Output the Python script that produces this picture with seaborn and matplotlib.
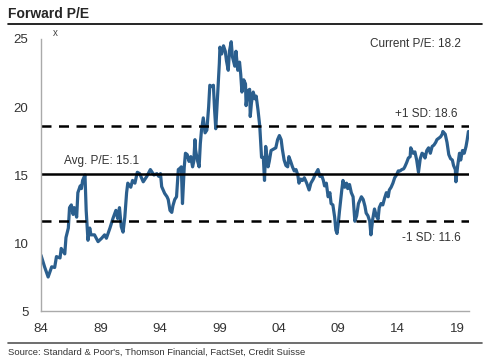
import numpy as np
import pandas as pd
import matplotlib
matplotlib.use("Agg")
import matplotlib.pyplot as plt
import seaborn as sns

# forward P/E (decimal year, value)
years = [1984.0, 1984.3, 1984.6, 1984.9, 1985.15, 1985.3, 1985.6, 1985.7, 1986.0, 1986.1,
         1986.3, 1986.4, 1986.55, 1986.7, 1986.8, 1987.0, 1987.1, 1987.3, 1987.4, 1987.5,
         1987.7, 1987.8, 1987.95, 1988.1, 1988.2, 1988.5, 1988.8, 1989.1, 1989.35, 1989.5,
         1989.8, 1990.05, 1990.3, 1990.45, 1990.6, 1990.75, 1990.9, 1991.05, 1991.2, 1991.3,
         1991.55, 1991.7, 1991.9, 1992.1, 1992.3, 1992.6, 1992.9, 1993.2, 1993.5, 1993.75,
         1993.9, 1994.05, 1994.15, 1994.4, 1994.6, 1994.7, 1994.85, 1995.0, 1995.1, 1995.25,
         1995.4, 1995.55, 1995.7, 1995.8, 1995.9, 1996.05, 1996.15, 1996.3, 1996.45, 1996.6,
         1996.75, 1996.85, 1996.95, 1997.0, 1997.15, 1997.3, 1997.4, 1997.5, 1997.65, 1997.8,
         1997.95, 1998.1, 1998.2, 1998.35, 1998.5, 1998.6, 1998.7, 1998.8, 1999.0, 1999.05,
         1999.2, 1999.35, 1999.5, 1999.6, 1999.75, 1999.85, 2000.0, 2000.1, 2000.3, 2000.4,
         2000.55, 2000.7, 2000.8, 2000.9, 2001.05, 2001.2, 2001.25, 2001.4, 2001.55, 2001.6,
         2001.7, 2001.85, 2002.0, 2002.1, 2002.25, 2002.4, 2002.55, 2002.7, 2002.8, 2002.9,
         2003.1, 2003.2, 2003.35, 2003.55, 2003.75, 2003.9, 2004.05, 2004.2, 2004.3, 2004.45,
         2004.6, 2004.75, 2004.85, 2005.0, 2005.15, 2005.3, 2005.45, 2005.6, 2005.7, 2005.85,
         2006.0, 2006.15, 2006.35, 2006.55, 2006.7, 2006.9, 2007.05, 2007.2, 2007.3, 2007.45,
         2007.6, 2007.75, 2007.85, 2008.0, 2008.15, 2008.3, 2008.4, 2008.55, 2008.7, 2008.8,
         2008.9, 2009.0, 2009.1, 2009.3, 2009.4, 2009.55, 2009.7, 2009.8, 2009.95, 2010.1,
         2010.25, 2010.4, 2010.55, 2010.7, 2010.95, 2011.1, 2011.25, 2011.35, 2011.5, 2011.65,
         2011.75, 2011.9, 2012.05, 2012.2, 2012.35, 2012.45, 2012.6, 2012.75, 2012.9, 2013.05,
         2013.2, 2013.3, 2013.45, 2013.6, 2013.75, 2013.9, 2014.05, 2014.2, 2014.35, 2014.5,
         2014.6, 2014.75, 2014.9, 2015.05, 2015.1, 2015.3, 2015.45, 2015.6, 2015.75, 2015.9,
         2016.05, 2016.2, 2016.3, 2016.45, 2016.6, 2016.75, 2016.9, 2017.05, 2017.2, 2017.3,
         2017.45, 2017.6, 2017.75, 2017.8, 2018.0, 2018.15, 2018.3, 2018.45, 2018.6, 2018.7,
         2018.85, 2018.9, 2019.05, 2019.2, 2019.3, 2019.45, 2019.6, 2019.75, 2019.85, 2019.95]
pe = [9.1, 8.25, 7.5, 8.25, 8.2, 9.0, 8.9, 9.6, 9.2, 10.4,
      11.1, 12.6, 12.8, 12.1, 12.6, 11.9, 13.7, 14.2, 14.0, 14.6,
      15.0, 12.4, 10.2, 11.1, 10.6, 10.6, 10.1, 10.35, 10.6, 10.35,
      11.1, 11.8, 12.4, 11.8, 12.6, 11.2, 10.8, 11.9, 13.7, 14.4,
      14.1, 14.6, 14.4, 15.2, 15.1, 14.5, 14.9, 15.4, 15.0, 15.1,
      14.9, 15.1, 14.15, 13.65, 13.4, 13.2, 12.4, 12.25, 12.75, 13.2,
      13.4, 15.4, 15.5, 15.6, 12.9, 15.6, 16.6, 16.5, 16.0, 16.35,
      15.6, 16.0, 17.6, 16.85, 16.1, 15.6, 17.3, 18.3, 19.2, 18.1,
      18.3, 20.0, 21.6, 21.5, 21.6, 19.8, 18.4, 20.0, 23.2, 24.4,
      23.9, 24.5, 24.1, 23.4, 22.7, 24.1, 24.8, 23.7, 23.0, 24.1,
      22.7, 23.3, 22.4, 21.1, 22.0, 21.7, 20.1, 21.2, 21.3, 19.3,
      20.3, 21.1, 20.6, 20.8, 19.8, 18.6, 16.3, 16.3, 14.6, 17.1,
      15.6, 16.0, 16.8, 16.9, 17.0, 17.6, 17.9, 17.6, 16.9, 16.1,
      15.7, 15.6, 16.35, 16.0, 15.6, 15.3, 15.4, 15.0, 14.4, 14.7,
      14.6, 14.8, 14.4, 13.9, 14.4, 14.7, 15.0, 15.25, 15.4, 14.9,
      15.0, 14.6, 14.2, 14.4, 13.4, 13.7, 12.9, 12.8, 11.9, 10.95,
      10.7, 11.4, 12.3, 13.9, 14.6, 14.1, 14.4, 14.0, 14.3, 13.7,
      13.4, 11.6, 12.0, 12.9, 13.4, 13.2, 12.7, 12.2, 12.0, 11.6,
      10.6, 11.75, 12.5, 12.0, 11.75, 12.6, 12.9, 12.8, 13.3, 13.7,
      13.4, 13.9, 14.1, 14.4, 14.8, 15.0, 15.3, 15.3, 15.4, 15.45,
      15.6, 15.9, 16.25, 16.35, 17.0, 16.6, 16.7, 16.1, 15.2, 16.2,
      16.6, 16.5, 16.25, 16.8, 17.0, 16.6, 17.1, 17.2, 17.4, 17.6,
      17.7, 17.8, 18.0, 18.2, 18.0, 17.4, 16.5, 16.2, 16.1, 15.7,
      15.4, 14.5, 15.7, 16.6, 16.1, 16.8, 16.6, 17.1, 17.6, 18.2]

avg_pe = 15.1
plus_sd = 18.6
minus_sd = 11.6
current_pe = 18.2
tick_years = [1984, 1989, 1994, 1999, 2004, 2009, 2014, 2019]
tick_labels = ["84", "89", "94", "99", "04", "09", "14", "19"]

df = pd.DataFrame({"year": years, "pe": pe})

sns.set_style("white")
plt.rcParams["font.family"] = ["Liberation Sans", "DejaVu Sans"]

fig = plt.figure(figsize=(4.89, 3.58), dpi=100)
ax = fig.add_axes([41/489, 1-311/358, 428/489, 272/358])

sns.lineplot(data=df, x="year", y="pe", ax=ax, color="#2b5f8e", linewidth=2.3)

ax.axhline(avg_pe, color="black", lw=1.8)
ax.axhline(plus_sd, color="black", lw=1.8, ls=(0, (4, 3)))
ax.axhline(minus_sd, color="black", lw=1.8, ls=(0, (4, 3)))

ax.set_xlim(1984, 2020)
ax.set_ylim(5, 25)
ax.set_xticks(tick_years)
ax.set_xticklabels(tick_labels)
ax.set_yticks([5, 10, 15, 20, 25])
ax.tick_params(length=0, labelsize=9.5, colors="#333333")
ax.tick_params(axis="y", pad=9)
ax.tick_params(axis="x", pad=9)
ax.set_xlabel("")
ax.set_ylabel("")
for s in ["top", "right"]:
    ax.spines[s].set_visible(False)
for s in ["left", "bottom"]:
    ax.spines[s].set_color("#aaaaaa")
    ax.spines[s].set_linewidth(1)

ax.text(1985.0, 25.1, "x", fontsize=7, color="#444444", va="bottom")
ax.text(2019.3, 24.6, f"Current P/E: {current_pe}", fontsize=8.5, color="#333333", ha="right", va="center")
ax.text(2019.0, 19.5, f"+1 SD: {plus_sd}", fontsize=8.5, color="#333333", ha="right", va="center")
ax.text(2019.3, 10.4, f"-1 SD: {minus_sd}", fontsize=8.5, color="#333333", ha="right", va="center")
ax.text(1985.9, 16.0, f"Avg. P/E: {avg_pe}", fontsize=8.5, color="#333333", ha="left", va="center")

fig.text(8/489, 1-14/358, "Forward P/E", fontsize=10, fontweight="bold", va="center")
fig.add_artist(plt.Line2D([8/489, 482/489], [1-23.5/358, 1-23.5/358], color="black", lw=1.2))
fig.add_artist(plt.Line2D([8/489, 482/489], [1-343/358, 1-343/358], color="#555555", lw=1.2))
fig.text(8/489, 1-352/358, "Source: Standard & Poor's, Thomson Financial, FactSet, Credit Suisse",
         fontsize=6.8, color="#333333", va="center")

fig.savefig("out.png", dpi=100)
